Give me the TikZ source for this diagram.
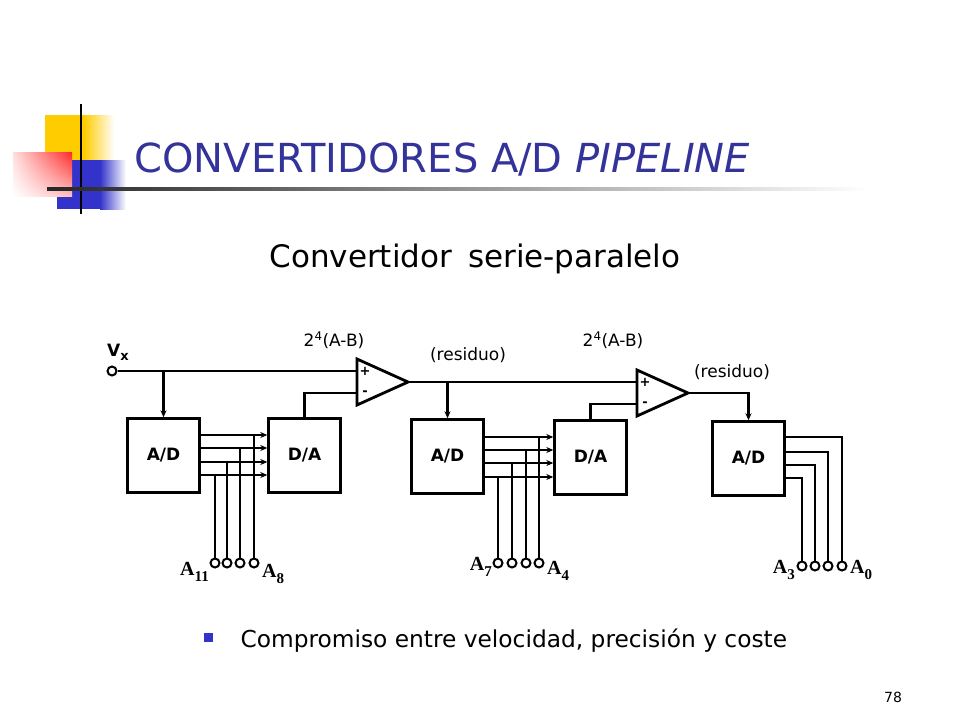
\documentclass[tikz,border=0pt]{standalone}
\usepackage{fontspec}
\setmainfont{DejaVu Sans}
\newfontfamily\schfont{Liberation Serif}
\usetikzlibrary{arrows.meta,shadings}
\definecolor{titleblue}{RGB}{51,51,153}
\definecolor{decoblue}{RGB}{51,51,204}
\definecolor{decoyellow}{RGB}{255,204,0}
\definecolor{decored}{RGB}{255,40,40}
\newcommand{\pinsub}[2]{#1\raisebox{-.3em}{\fontsize{15}{15}\selectfont #2}}

\begin{document}
\begin{tikzpicture}[x=1pt, y=-1pt, line width=2.4pt,
  blk/.style={draw, minimum width=72pt, minimum height=74pt, inner sep=0pt,
    font=\bfseries\fontsize{17}{17}\selectfont},
  term/.style={draw, circle, inner sep=0pt, minimum size=9pt, line width=2pt, fill=white},
  lbl/.style={font=\fontsize{17}{17}\selectfont},
  pin/.style={font=\schfont\bfseries\fontsize{20}{20}\selectfont, inner sep=1pt},
  arr/.style={-{Stealth[length=7pt,width=6pt]}}]
  \fill[white] (0,0) rectangle (960,720);
  \useasboundingbox (0,0) rectangle (960,720);

  % title decoration
  \fill[decoyellow] (45,115) rectangle (84,160);
  \shade[left color=decoyellow, right color=white] (84,115) rectangle (114,160);
  \fill[decoblue] (57,160) rectangle (100,209);
  \shade[left color=decoblue, right color=white] (100,160) rectangle (126,209);
  \shade[upper left=decored!15, upper right=decored, lower left=white, lower right=decored!30]
    (13,152) rectangle (72,196);
  \draw[line width=2pt] (81,104) -- (81,214);
  \shade[left color=black!85, right color=white] (47,187) rectangle (870,190);

  \node[anchor=base west, text=titleblue, font=\fontsize{40}{40}\selectfont] (title)
    at (130,172) {CONVERTIDORES A/D \textit{PIPELINE}};
  \node[anchor=base, font=\fontsize{31}{31}\selectfont] (sub)
    at (475,267) {Convertidor\hspace{.2em} serie-paralelo};

  % stage 1
  \node[term] (vx) at (112,371) {};
  \node[font=\bfseries\fontsize{17}{17}\selectfont, inner sep=0pt] (vxl) at (118,352)
    {V\raisebox{-.25em}{\fontsize{13}{13}\selectfont x}};
  \node[blk] (ad1) at (163.5,455.5) {A/D};
  \node[blk] (da1) at (304.5,455.5) {D/A};
  \coordinate (op1p) at (357,371);
  \coordinate (op1m) at (357,393);
  \coordinate (op1o) at (408,382);
  \draw[line width=2.8pt, line join=miter] (357,359) -- (op1o) -- (357,405) -- cycle;
  \node[font=\bfseries\fontsize{13}{13}\selectfont] (op1a) at (365,371) {+};
  \node[font=\bfseries\fontsize{13}{13}\selectfont] (op1b) at (365,393) {-};
  \draw (vx) -- (op1p);
  \draw[arr] (ad1.north |- op1p) -- (ad1.north);
  \draw (da1.north) |- (op1m);
  \foreach \i/\y/\x in {1/435/254, 2/448/240, 3/462/227, 4/475/215} {
    \coordinate (b1\i) at (0,\y);
    \draw[arr] (ad1.east |- b1\i) -- (da1.west |- b1\i);
    \node[term] (t1\i) at (\x,563) {};
    \draw (b1\i -| t1\i) -- (t1\i);
  }
  \node[pin, anchor=base east] (a11) at (211,575) {\pinsub{A}{11}};
  \node[pin, anchor=base west] (a8) at (260,577) {\pinsub{A}{8}};
  \node[lbl] (g1) at (334,340) {2\textsuperscript{4}(A-B)};

  % stage 2
  \node[blk] (ad2) at (447.5,456.5) {A/D};
  \node[blk] (da2) at (590.5,457.5) {D/A};
  \coordinate (op2p) at (637,382);
  \coordinate (op2m) at (637,404);
  \coordinate (op2o) at (688,393);
  \draw[line width=2.8pt, line join=miter] (637,370) -- (op2o) -- (637,416) -- cycle;
  \node[font=\bfseries\fontsize{13}{13}\selectfont] (op2a) at (645,382) {+};
  \node[font=\bfseries\fontsize{13}{13}\selectfont] (op2b) at (645,404) {-};
  \draw (op1o) -- (op2p);
  \draw[arr] (ad2.north |- op1o) -- (ad2.north);
  \draw (da2.north) |- (op2m);
  \foreach \i/\y/\x in {1/437/539, 2/450/526, 3/463/512, 4/477/498} {
    \coordinate (b2\i) at (0,\y);
    \draw[arr] (ad2.east |- b2\i) -- (da2.west |- b2\i);
    \node[term] (t2\i) at (\x,563) {};
    \draw (b2\i -| t2\i) -- (t2\i);
  }
  \node[pin, anchor=base east] (a7) at (494,570) {\pinsub{A}{7}};
  \node[pin, anchor=base west] (a4) at (545,574) {\pinsub{A}{4}};
  \node[lbl] (r1) at (468,355) {(residuo)};
  \node[lbl] (g2) at (613,340) {2\textsuperscript{4}(A-B)};

  % stage 3
  \node[blk] (ad3) at (748.5,458.5) {A/D};
  \draw[arr] (op2o) -| (ad3.north);
  \foreach \i/\y/\x in {1/437/842, 2/452/828, 3/465/815, 4/478/802} {
    \coordinate (b3\i) at (0,\y);
    \node[term] (t3\i) at (\x,566) {};
    \draw (ad3.east |- b3\i) -| (t3\i);
  }
  \node[pin, anchor=base east] (a3) at (797,573) {\pinsub{A}{3}};
  \node[pin, anchor=base west] (a0) at (848,573) {\pinsub{A}{0}};
  \node[lbl] (r2) at (732,372) {(residuo)};

  % bullet
  \fill[decoblue] (204,633) rectangle (213,642);
  \node[anchor=base west, font=\fontsize{23.3}{23.3}\selectfont] (bul)
    at (236,647) {Compromiso entre velocidad, precisión y coste};
  \node[font=\fontsize{14}{14}\selectfont] (num) at (893,697) {78};
\end{tikzpicture}
\end{document}
